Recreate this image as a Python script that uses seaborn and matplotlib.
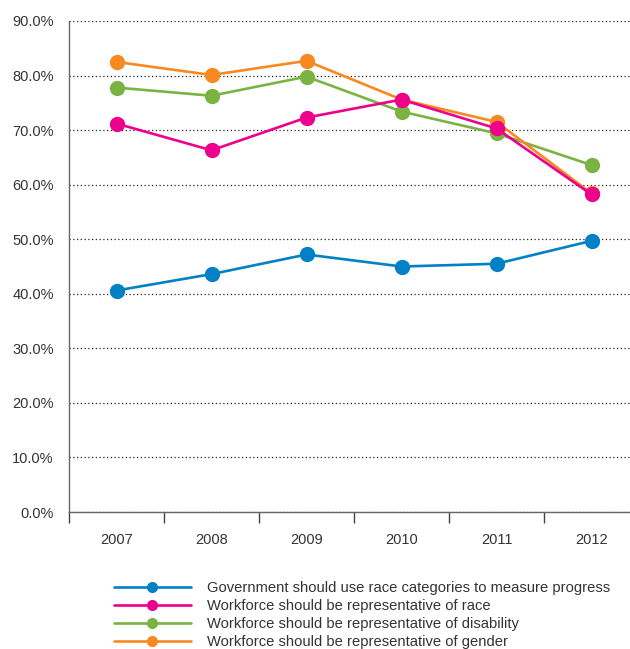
import seaborn as sns
import matplotlib.pyplot as plt
import pandas as pd
from matplotlib.lines import Line2D
from matplotlib.ticker import FuncFormatter, FixedLocator

years = ['2007', '2008', '2009', '2010', '2011', '2012']
gov_race = [40.6, 43.6, 47.2, 45.0, 45.5, 49.7]
wf_race = [71.2, 66.3, 72.3, 75.6, 70.3, 58.2]
wf_disability = [77.8, 76.3, 79.8, 73.4, 69.4, 63.6]
wf_gender = [82.5, 80.1, 82.7, 75.6, 71.5, 58.4]

labels = ['Government should use race categories to measure progress',
          'Workforce should be representative of race',
          'Workforce should be representative of disability',
          'Workforce should be representative of gender']
colors = ['#0081c6', '#ec008c', '#7ab342', '#f7891f']
series = [gov_race, wf_race, wf_disability, wf_gender]

sns.set_style('white')
plt.rcParams['font.family'] = ['Liberation Sans', 'DejaVu Sans']

fig = plt.figure(figsize=(6.3, 6.49), dpi=100)
ax = fig.add_axes([69 / 630, 1 - 512 / 649, 570 / 630, 491 / 649])

# draw order: blue, green, orange, pink on top
for i in [0, 2, 3, 1]:
    df = pd.DataFrame({'year': years, 'value': series[i]})
    sns.lineplot(data=df, x='year', y='value', ax=ax, color=colors[i],
                 linewidth=1.9, marker='o', markersize=11, markeredgewidth=0,
                 sort=False)

ax.set_xlim(-0.5, 5.5)
ax.set_ylim(0, 90)
ax.set_yticks(range(0, 91, 10))
ax.yaxis.set_major_formatter(FuncFormatter(lambda v, p: f'{v:.1f}%'))
ax.set_xlabel('')
ax.set_ylabel('')
ax.grid(axis='y', color='#222222', linestyle=(0, (1, 2)), linewidth=0.9)
ax.grid(axis='x', visible=False)
for s in ['top', 'right']:
    ax.spines[s].set_visible(False)
ax.spines['left'].set_color('#666666')
ax.spines['bottom'].set_color('#666666')
ax.spines['left'].set_linewidth(1.0)
ax.spines['bottom'].set_linewidth(1.0)

ax.tick_params(axis='x', which='major', length=0, pad=15, labelsize=10.5, labelcolor='#333333')
ax.tick_params(axis='y', which='major', length=0, pad=11, labelsize=10.5, labelcolor='#333333')
ax.xaxis.set_minor_locator(FixedLocator([-0.5, 0.5, 1.5, 2.5, 3.5, 4.5]))
ax.tick_params(axis='x', which='minor', bottom=True, length=8, width=1.0,
               color='#444444', direction='out')

handles = [Line2D([0], [0], color=c, linewidth=1.9, marker='o', markersize=8,
                  markeredgewidth=0) for c in colors]
fig.legend(handles, labels, loc='upper left', bbox_to_anchor=(114 / 630, 1 - 581 / 649),
           frameon=False, fontsize=10.6, handlelength=5.2, handletextpad=1.1,
           labelspacing=0.28, borderpad=0, borderaxespad=0, labelcolor='#333333')

fig.savefig('out.png', dpi=100)
